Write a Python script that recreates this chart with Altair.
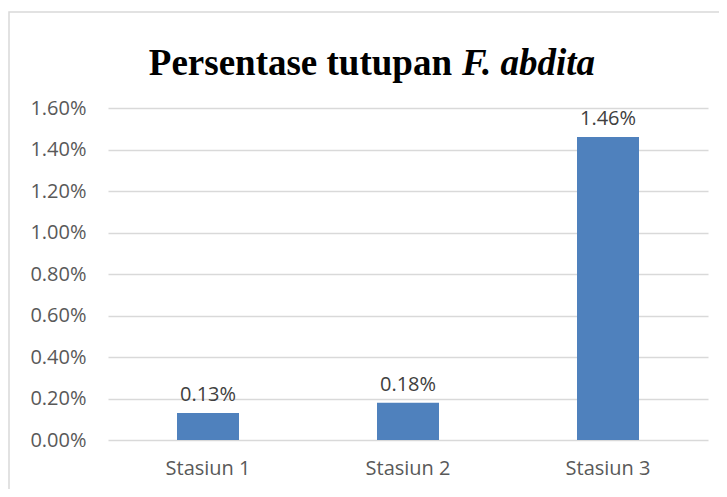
import altair as alt
import pandas as pd

stations = ["Stasiun 1", "Stasiun 2", "Stasiun 3"]
values = [0.0013, 0.0018, 0.0146]
y_ticks = [0, 0.002, 0.004, 0.006, 0.008, 0.010, 0.012, 0.014, 0.016]
title_main = "Persentase tutupan"
title_italic = "F. abdita"

df = pd.DataFrame({"station": stations, "value": values})
one = pd.DataFrame({"k": [0]})

FONT = "Open Sans"

x_enc = alt.X(
    "station:N",
    sort=stations,
    title=None,
    scale=alt.Scale(paddingInner=0.69, paddingOuter=0.345),
    axis=alt.Axis(
        labelAngle=0, ticks=False, domain=False, grid=False,
        labelFont=FONT, labelFontSize=20, labelColor="#595959", labelPadding=18,
    ),
)
y_enc = alt.Y(
    "value:Q",
    title=None,
    scale=alt.Scale(domain=[0, 0.016], nice=False),
    axis=alt.Axis(
        values=y_ticks, format=".2%", ticks=False, domain=False,
        grid=True, gridColor="#d9d9d9", gridWidth=1.5,
        labelFont=FONT, labelFontSize=20, labelColor="#595959", labelPadding=22,
    ),
)

bars = alt.Chart(df).mark_bar(color="#4F81BD").encode(x=x_enc, y=y_enc)

labels = alt.Chart(df).mark_text(
    font=FONT, fontSize=20, color="#404040", baseline="bottom", dy=-8
).encode(
    x=alt.X("station:N", sort=stations),
    y=alt.Y("value:Q"),
    text=alt.Text("value:Q", format=".2%"),
)

border = alt.Chart(one).mark_rect(
    fill=None, stroke="#d9d9d9", strokeWidth=1.5
).encode(
    x=alt.value(-99), x2=alt.value(660), y=alt.value(-96), y2=alt.value(440)
)

t1 = alt.Chart(one).mark_text(
    font="Liberation Serif", fontSize=37, fontWeight="bold", color="#000000",
    align="right", baseline="alphabetic", text=title_main,
).encode(x=alt.value(344), y=alt.value(-33))

t2 = alt.Chart(one).mark_text(
    font="Liberation Serif", fontSize=37, fontWeight="bold", fontStyle="italic",
    color="#000000", align="left", baseline="alphabetic", text=title_italic,
).encode(x=alt.value(354), y=alt.value(-33))

chart = alt.layer(border, bars, labels, t1, t2).properties(
    width=600,
    height=332,
    autosize=alt.AutoSizeParams(type="none"),
    padding={"left": 100, "top": 100, "right": 11, "bottom": 49},
    background="white",
).configure_view(stroke=None)

chart.save("out.html", embed_options={"renderer": "svg", "actions": False})
